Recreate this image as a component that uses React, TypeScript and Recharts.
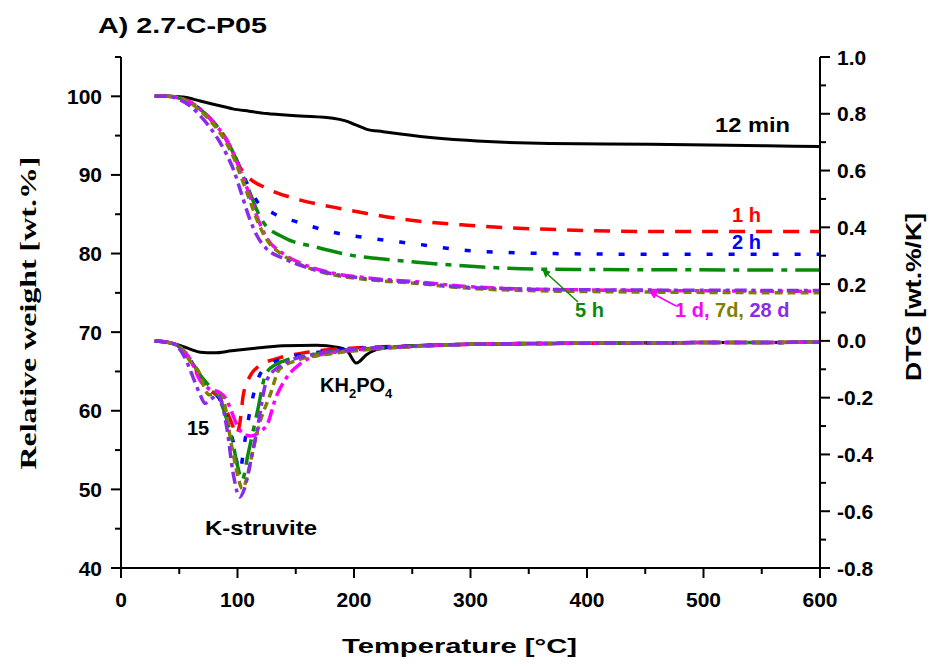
import React from 'react';
import { LineChart, Line, XAxis, YAxis } from 'recharts';

// ---- tick values / labels ----
const xMajorTicks = [0, 100, 200, 300, 400, 500, 600];
const xMinorTicks = [50, 150, 250, 350, 450, 550];
const leftMajorTicks = [40, 50, 60, 70, 80, 90, 100];
const leftMinorTicks = [45, 55, 65, 75, 85, 95, 105];
const rightMajorTicks = [-0.8, -0.6, -0.4, -0.2, 0, 0.2, 0.4, 0.6, 0.8, 1.0];
const rightMinorTicks = [-0.7, -0.5, -0.3, -0.1, 0.1, 0.3, 0.5, 0.7, 0.9];

// ---- TG curves: [temperature °C, relative weight wt.%] ----
const tg12min = [[29, 100], [40, 100], [53, 99.9], [68, 99.4], [82, 98.9], [96, 98.4], [110, 98.1], [125, 97.8], [154, 97.5], [182, 97.2], [192, 96.9], [201, 96.4], [211, 95.8], [225, 95.5], [240, 95.2], [257, 94.9], [297, 94.4], [368, 94.0], [454, 93.9], [554, 93.7], [600, 93.6]];
const tg1h = [[29, 100], [40, 100], [50, 99.8], [60, 99.2], [70, 98.1], [80, 96.6], [90, 94.6], [97, 92.6], [103, 90.8], [110, 89.6], [125, 88.3], [154, 86.8], [182, 85.9], [211, 85.1], [240, 84.4], [297, 83.6], [383, 83.0], [469, 82.8], [600, 82.8]];
const tg2h = [[29, 100], [40, 100], [50, 99.8], [60, 99.2], [70, 98.1], [80, 96.6], [90, 94.6], [97, 92.6], [103, 90.6], [110, 88.4], [117, 86.6], [131, 85.1], [154, 83.9], [182, 82.7], [211, 82.0], [254, 81.2], [297, 80.4], [368, 80.0], [469, 79.9], [600, 79.9]];
const tg5h = [[29, 100], [40, 100], [50, 99.8], [60, 99.2], [70, 98.1], [80, 96.6], [90, 94.6], [97, 92.6], [103, 90.5], [110, 88.0], [117, 85.4], [122, 84.0], [139, 82.1], [168, 80.8], [197, 79.8], [225, 79.3], [254, 78.9], [297, 78.4], [368, 78.0], [600, 77.9]];
const tg1d = [[29, 100], [40, 100], [50, 99.8], [60, 99.2], [70, 98.1], [80, 96.6], [90, 94.6], [97, 92.6], [103, 90.3], [110, 87.6], [117, 84.6], [125, 82.0], [139, 80.0], [154, 78.8], [182, 77.5], [211, 76.9], [254, 76.4], [297, 75.8], [383, 75.4], [600, 75.2]];
const tg7d = [[29, 100], [40, 100], [50, 99.8], [60, 99.1], [70, 97.9], [80, 96.3], [90, 94.2], [97, 92.1], [103, 89.8], [110, 87.0], [117, 84.2], [125, 81.8], [139, 79.8], [154, 78.6], [182, 77.3], [211, 76.7], [254, 76.2], [297, 75.6], [383, 75.2], [600, 75.0]];
const tg28d = [[29, 100], [40, 100], [50, 99.6], [60, 98.7], [70, 97.2], [80, 95.3], [90, 92.8], [97, 90.5], [103, 87.8], [110, 84.6], [117, 82.2], [125, 80.6], [139, 79.4], [154, 78.5], [182, 77.4], [211, 76.8], [254, 76.3], [297, 75.7], [383, 75.4], [600, 75.3]];

// ---- DTG curves: [temperature °C, DTG wt.%/K] ----
const dtg12min = [[29, 0], [40, -0.005], [50, -0.015], [60, -0.03], [68, -0.04], [80, -0.042], [95, -0.035], [111, -0.028], [139, -0.017], [168, -0.015], [185, -0.022], [194, -0.035], [202, -0.078], [211, -0.048], [220, -0.03], [240, -0.02], [260, -0.015], [300, -0.012], [400, -0.008], [500, -0.006], [600, -0.005]];
const dtg1h = [[29, 0], [40, -0.005], [50, -0.02], [60, -0.07], [68, -0.13], [76, -0.17], [84, -0.2], [91, -0.25], [96, -0.3], [99, -0.33], [102, -0.29], [105, -0.19], [110, -0.13], [118, -0.09], [136, -0.06], [160, -0.04], [200, -0.025], [250, -0.018], [300, -0.012], [400, -0.008], [600, -0.005]];
const dtg2h = [[29, 0], [40, -0.005], [50, -0.02], [60, -0.07], [68, -0.13], [76, -0.17], [84, -0.2], [91, -0.27], [96, -0.35], [102, -0.46], [106, -0.36], [112, -0.22], [118, -0.13], [125, -0.09], [142, -0.06], [170, -0.04], [210, -0.025], [250, -0.018], [300, -0.012], [400, -0.008], [600, -0.005]];
const dtg5h = [[29, 0], [40, -0.005], [50, -0.02], [60, -0.07], [68, -0.12], [76, -0.16], [84, -0.2], [91, -0.28], [96, -0.36], [100, -0.44], [104, -0.49], [109, -0.4], [117, -0.25], [125, -0.11], [140, -0.07], [170, -0.045], [210, -0.028], [250, -0.018], [300, -0.012], [400, -0.008], [600, -0.005]];
const dtg1d = [[29, 0], [40, -0.005], [50, -0.02], [60, -0.07], [68, -0.14], [76, -0.17], [84, -0.18], [91, -0.21], [95, -0.25], [100, -0.3], [106, -0.33], [112, -0.335], [119, -0.32], [126, -0.29], [132, -0.21], [142, -0.13], [154, -0.08], [170, -0.05], [210, -0.03], [250, -0.02], [300, -0.012], [400, -0.008], [600, -0.005]];
const dtg7d = [[29, 0], [40, -0.005], [50, -0.02], [59, -0.07], [68, -0.12], [72, -0.17], [76, -0.19], [82, -0.19], [87, -0.2], [95, -0.37], [100, -0.47], [104, -0.52], [109, -0.47], [113, -0.39], [119, -0.29], [128, -0.19], [136, -0.1], [150, -0.07], [180, -0.045], [220, -0.028], [260, -0.018], [300, -0.012], [400, -0.008], [600, -0.005]];
const dtg28d = [[29, 0], [45, -0.01], [55, -0.06], [62, -0.13], [68, -0.19], [72, -0.22], [76, -0.21], [79, -0.2], [83, -0.19], [91, -0.31], [96, -0.46], [102, -0.55], [106, -0.52], [111, -0.43], [117, -0.31], [125, -0.14], [136, -0.09], [145, -0.07], [168, -0.045], [197, -0.03], [240, -0.02], [300, -0.012], [400, -0.008], [600, -0.005]];

const pts = (arr: number[][]) => arr.map(([t, v]) => ({ t, v }));

const FONT = '"Liberation Sans", Arial, Helvetica, sans-serif';

const isIn = (list: number[], v: number) => list.some((m) => Math.abs(m - v) < 1e-6);

const LeftTick = (props: any) => {
  const { x, y, payload } = props;
  const major = isIn(leftMajorTicks, payload.value);
  return (
    <g>
      <line x1={x} x2={x - (major ? 10 : 6)} y1={y} y2={y} stroke="#000" strokeWidth={2} />
      {major && (
        <text x={x - 19} y={y} dy={7.5} textAnchor="end" fontFamily={FONT} fontWeight="bold" fontSize={21} fill="#000">
          {payload.value}
        </text>
      )}
    </g>
  );
};

const RightTick = (props: any) => {
  const { x, y, payload } = props;
  const major = isIn(rightMajorTicks, payload.value);
  return (
    <g>
      <line x1={x} x2={x + (major ? 10 : 6)} y1={y} y2={y} stroke="#000" strokeWidth={2} />
      {major && (
        <text x={x + 17} y={y} dy={7.5} textAnchor="start" fontFamily={FONT} fontWeight="bold" fontSize={21} fill="#000">
          {Number(payload.value).toFixed(1)}
        </text>
      )}
    </g>
  );
};

const BottomTick = (props: any) => {
  const { x, y, payload } = props;
  const major = isIn(xMajorTicks, payload.value);
  return (
    <g>
      <line x1={x} x2={x} y1={y} y2={y + (major ? 10 : 6)} stroke="#000" strokeWidth={2} />
      {major && (
        <text x={x} y={y + 39} textAnchor="middle" fontFamily={FONT} fontWeight="bold" fontSize={21} fill="#000">
          {payload.value}
        </text>
      )}
    </g>
  );
};

const series = [
  { data: tg12min, axis: 'left', color: '#000000', dash: undefined, w: 3 },
  { data: dtg12min, axis: 'right', color: '#000000', dash: undefined, w: 3 },
  { data: tg1h, axis: 'left', color: '#ff0000', dash: '16 11', w: 3.5 },
  { data: dtg1h, axis: 'right', color: '#ff0000', dash: '16 11', w: 3.5 },
  { data: tg2h, axis: 'left', color: '#0000ff', dash: '6 16', w: 3.5 },
  { data: dtg2h, axis: 'right', color: '#0000ff', dash: '6 16', w: 3.5 },
  { data: tg5h, axis: 'left', color: '#0a8a0a', dash: '26 8 6 8', w: 3.5 },
  { data: dtg5h, axis: 'right', color: '#0a8a0a', dash: '26 8 6 8', w: 3.5 },
  { data: tg1d, axis: 'left', color: '#ff00ff', dash: '14 5 4 5', w: 3.5 },
  { data: dtg1d, axis: 'right', color: '#ff00ff', dash: '14 5 4 5', w: 3.5 },
  { data: tg7d, axis: 'left', color: '#808000', dash: '8 5', w: 3.5 },
  { data: dtg7d, axis: 'right', color: '#808000', dash: '8 5', w: 3.5 },
  { data: tg28d, axis: 'left', color: '#8a2be8', dash: '12 5 4 5', w: 3.5 },
  { data: dtg28d, axis: 'right', color: '#8a2be8', dash: '12 5 4 5', w: 3.5 },
];

export default function App() {
  const xTicks = [...xMajorTicks, ...xMinorTicks].sort((a, b) => a - b);
  const lTicks = [...leftMajorTicks, ...leftMinorTicks].sort((a, b) => a - b);
  const rTicks = [...rightMajorTicks, ...rightMinorTicks].sort((a, b) => a - b);
  const bold = { fontFamily: FONT, fontWeight: 'bold' as const };
  return (
    <div style={{ position: 'absolute', left: 0, top: 0, width: 932, height: 666, background: '#fff' }}>
      <LineChart width={932} height={666} margin={{ top: 57, right: 52, bottom: 58, left: 61 }}>
        <XAxis
          dataKey="t"
          type="number"
          domain={[0, 600]}
          ticks={xTicks}
          interval={0}
          allowDataOverflow
          height={40}
          tickSize={0}
          tickMargin={0}
          tickLine={false}
          axisLine={{ stroke: '#000', strokeWidth: 2 }}
          tick={<BottomTick />}
        />
        <YAxis
          yAxisId="left"
          type="number"
          domain={[40, 105]}
          ticks={lTicks}
          interval={0}
          allowDataOverflow
          width={60}
          tickSize={0}
          tickMargin={0}
          tickLine={false}
          axisLine={{ stroke: '#000', strokeWidth: 2 }}
          tick={<LeftTick />}
        />
        <YAxis
          yAxisId="right"
          orientation="right"
          type="number"
          domain={[-0.8, 1.0]}
          ticks={rTicks}
          interval={0}
          allowDataOverflow
          width={60}
          tickSize={0}
          tickMargin={0}
          tickLine={false}
          axisLine={{ stroke: '#000', strokeWidth: 2 }}
          tick={<RightTick />}
        />
        {series.map((s, i) => (
          <Line
            key={i}
            data={pts(s.data)}
            dataKey="v"
            yAxisId={s.axis}
            type="monotone"
            stroke={s.color}
            strokeWidth={s.w}
            strokeDasharray={s.dash}
            dot={false}
            activeDot={false}
            isAnimationActive={false}
          />
        ))}
      </LineChart>
      <svg width={932} height={666} style={{ position: 'absolute', left: 0, top: 0, pointerEvents: 'none' }}>
        <defs>
          <marker id="arrG" markerWidth="8" markerHeight="8" refX="7" refY="4" orient="auto" markerUnits="userSpaceOnUse">
            <path d="M0,0 L8,4 L0,8 z" fill="#0a8a0a" />
          </marker>
          <marker id="arrM" markerWidth="8" markerHeight="8" refX="7" refY="4" orient="auto" markerUnits="userSpaceOnUse">
            <path d="M0,0 L8,4 L0,8 z" fill="#ff00ff" />
          </marker>
        </defs>
        <text x={98} y={33} {...bold} fontSize={22} textLength={169} lengthAdjust="spacingAndGlyphs">A) 2.7-C-P05</text>
        <text x={342} y={653} {...bold} fontSize={21} textLength={235} lengthAdjust="spacingAndGlyphs">Temperature [°C]</text>
        <text
          x={0}
          y={0}
          transform="translate(36,313) rotate(-90)"
          textAnchor="middle"
          fontFamily='"Liberation Serif", "Times New Roman", serif'
          fontWeight="bold"
          fontSize={23}
          textLength={313}
          lengthAdjust="spacingAndGlyphs"
        >
          Relative weight [wt.%]
        </text>
        <text
          x={0}
          y={0}
          transform="translate(921,297) rotate(-90)"
          textAnchor="middle"
          {...bold}
          fontSize={22}
          textLength={168}
          lengthAdjust="spacingAndGlyphs"
        >
          DTG [wt.%/K]
        </text>
        <text x={715} y={132} {...bold} fontSize={20} textLength={75} lengthAdjust="spacingAndGlyphs">12 min</text>
        <text x={732} y={222} {...bold} fontSize={20} fill="#ff0000">1 h</text>
        <text x={732} y={249} {...bold} fontSize={20} fill="#0000ff">2 h</text>
        <text x={575} y={317} {...bold} fontSize={20} fill="#0a8a0a">5 h</text>
        <line x1={578} y1={302} x2={543} y2={270} stroke="#0a8a0a" strokeWidth={1.5} markerEnd="url(#arrG)" />
        <text x={675} y={317} {...bold} fontSize={20}>
          <tspan fill="#ff00ff">1 d, </tspan>
          <tspan fill="#808000">7d, </tspan>
          <tspan fill="#8a2be8">28 d</tspan>
        </text>
        <line x1={676} y1={306} x2={650} y2={292} stroke="#ff00ff" strokeWidth={1.5} markerEnd="url(#arrM)" />
        <text x={320} y={392} {...bold} fontSize={20}>
          KH<tspan dy={6} fontSize={13}>2</tspan>
          <tspan dy={-6}>PO</tspan>
          <tspan dy={6} fontSize={13}>4</tspan>
        </text>
        <text x={187} y={435} {...bold} fontSize={20}>15</text>
        <text x={205} y={535} {...bold} fontSize={20} textLength={112} lengthAdjust="spacingAndGlyphs">K-struvite</text>
      </svg>
    </div>
  );
}
